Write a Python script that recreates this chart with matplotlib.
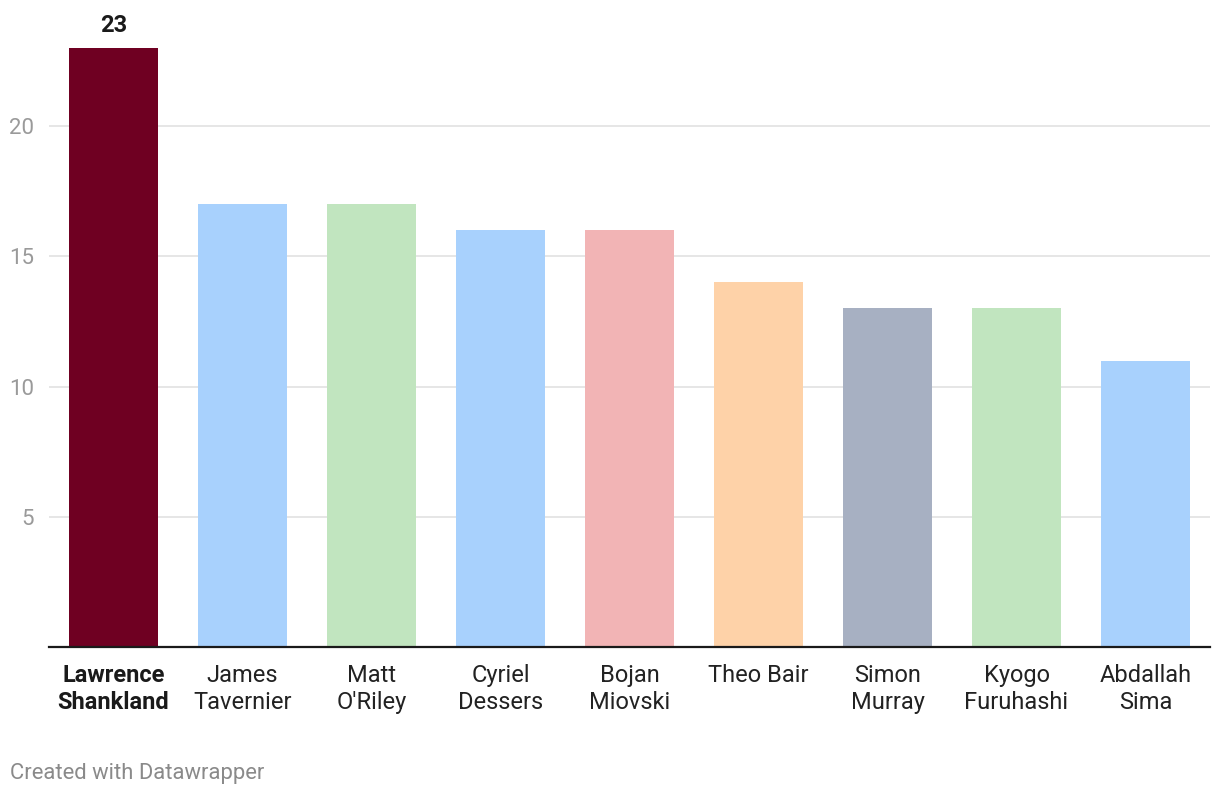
import matplotlib

matplotlib.use("Agg")
import matplotlib.pyplot as plt

plt.rcParams["font.family"] = ["Roboto", "DejaVu Sans"]

players = ["Lawrence\nShankland", "James\nTavernier", "Matt\nO'Riley", "Cyriel\nDessers",
           "Bojan\nMiovski", "Theo Bair", "Simon\nMurray", "Kyogo\nFuruhashi", "Abdallah\nSima"]
goals = [23, 17, 17, 16, 16, 14, 13, 13, 11]
colors = ["#6f0022", "#a8d1fd", "#c1e5bf", "#a8d1fd", "#f2b4b5",
          "#fed2a8", "#a7b0c2", "#c1e5bf", "#a8d1fd"]
y_ticks = [5, 10, 15, 20]

W, H = 1220, 796
fig = plt.figure(figsize=(W / 100, H / 100), dpi=100)
ax = fig.add_axes([49 / W, (H - 647) / H, (1210 - 49) / W, (647 - 48) / H])

x = list(range(len(goals)))
ax.bar(x, goals, width=0.69, color=colors, zorder=2)
ax.set_xlim(-0.5, len(goals) - 0.5)
ax.set_ylim(0, 23)

ax.set_yticks(y_ticks)
ax.set_yticklabels([str(v) for v in y_ticks])
ax.grid(axis="y", color="#e2e2e2", linewidth=1.2, zorder=0)
ax.tick_params(axis="y", length=0, pad=11, labelsize=16, labelcolor="#9a9a9a")

ax.set_xticks(x)
ax.set_xticklabels(players, linespacing=1.25)
ax.tick_params(axis="x", length=0, pad=12, labelsize=17, labelcolor="#222222")
for lbl in ax.get_xticklabels()[:1]:
    lbl.set_fontweight("bold")
    lbl.set_color("#1a1a1a")

for side in ["top", "right", "left"]:
    ax.spines[side].set_visible(False)
ax.spines["bottom"].set_color("#1a1a1a")
ax.spines["bottom"].set_linewidth(1.6)
ax.spines["bottom"].set_zorder(3)

ax.text(x[0], goals[0] + 0.42, str(goals[0]), ha="center", va="bottom",
        fontsize=17, fontweight="bold", color="#1a1a1a", clip_on=False)

fig.text(10 / W, 1 - 773 / H, "Created with Datawrapper", ha="left", va="center",
         fontsize=15.8, color="#8a8a8a")

fig.savefig("out.png", dpi=100)
plt.close(fig)
